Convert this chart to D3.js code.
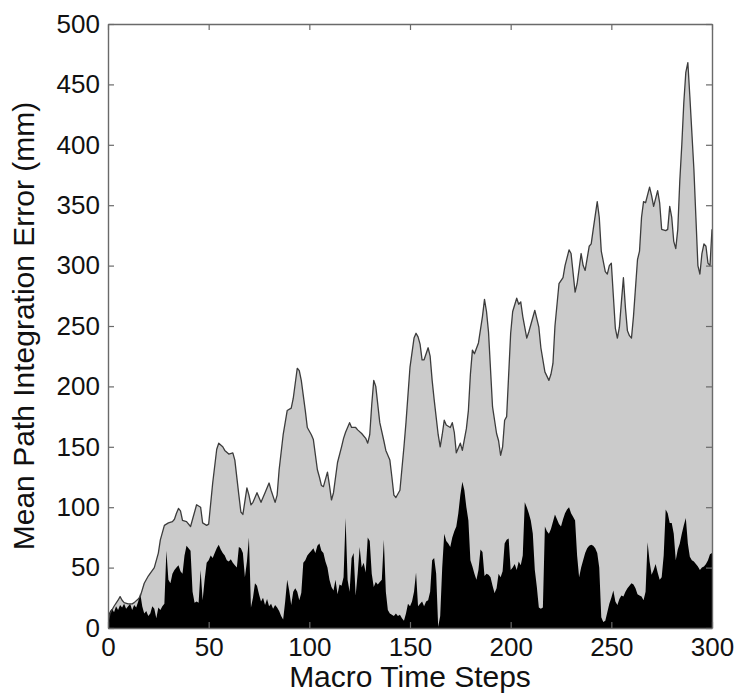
<!DOCTYPE html>
<html>
<head>
<meta charset="utf-8">
<script src="https://cdn.jsdelivr.net/npm/d3@7"></script>
<style>
  body { margin: 0; background: #fff; }
  svg text { font-family: "Liberation Sans", Arial, Helvetica, sans-serif; fill: #111; }
</style>
</head>
<body>
<svg id="chart" width="739" height="698"></svg>
<script>
// mean path integration error (upper grey curve), read at key steps
var meanSteps = [0, 1, 3, 5, 6, 7, 8, 10, 12, 13, 15, 16, 18, 20, 23, 25, 26, 28, 30, 32,
    33, 34, 35, 36, 37, 39, 41, 42, 44, 46, 47, 49, 50, 52, 54, 55, 57, 58, 60, 62,
    63, 65, 66, 67, 68, 69, 70, 71, 72, 74, 75, 76, 78, 80, 81, 83, 84, 85, 87, 89,
    91, 92, 94, 95, 96, 98, 99, 101, 102, 104, 105, 106, 107, 109, 110, 111, 112, 114, 116, 117,
    118, 120, 121, 123, 124, 126, 128, 129, 130, 131, 132, 133, 135, 137, 138, 140, 141, 142, 143, 145,
    147, 148, 150, 152, 153, 154, 155, 156, 157, 159, 160, 161, 162, 164, 165, 166, 167, 168, 170, 171,
    172, 173, 175, 176, 178, 179, 180, 181, 182, 184, 186, 187, 188, 189, 191, 193, 194, 195, 196, 197,
    198, 200, 201, 203, 204, 205, 206, 208, 209, 211, 212, 214, 215, 217, 219, 220, 221, 222, 224, 226,
    227, 229, 230, 232, 233, 235, 236, 237, 239, 240, 241, 243, 244, 245, 247, 248, 249, 250, 251, 252,
    253, 254, 255, 256, 257, 258, 259, 260, 261, 263, 264, 265, 266, 267, 269, 270, 271, 273, 274, 275,
    277, 278, 279, 280, 281, 282, 283, 284, 285, 286, 287, 288, 289, 290, 291, 292, 293, 294, 295, 296,
    297, 298, 299, 300];
var meanError = [5, 12, 18, 23, 26, 23, 21, 20, 20, 21, 24, 26, 37, 43, 50, 62, 73, 85, 87, 88,
    90, 95, 99, 97, 89, 88, 84, 90, 102, 100, 87, 85, 86, 120, 148, 153, 150, 147, 144, 145,
    139, 110, 96, 94, 105, 116, 110, 102, 104, 112, 108, 104, 112, 120, 114, 104, 110, 131, 160, 180,
    182, 190, 215, 213, 205, 180, 166, 160, 156, 131, 125, 118, 117, 129, 118, 106, 112, 137, 150, 157,
    162, 170, 166, 166, 164, 161, 157, 153, 160, 185, 205, 200, 170, 155, 147, 139, 125, 110, 108, 114,
    150, 170, 216, 240, 244, 241, 235, 222, 222, 232, 225, 205, 189, 160, 150, 160, 172, 168, 166, 170,
    162, 145, 153, 147, 165, 180, 210, 230, 227, 236, 258, 272, 262, 245, 183, 161, 155, 143, 150, 172,
    175, 244, 262, 273, 268, 270, 258, 240, 245, 257, 263, 249, 232, 212, 205, 210, 219, 250, 285, 290,
    300, 313, 310, 278, 285, 310, 300, 296, 316, 318, 330, 353, 340, 312, 295, 293, 300, 302, 275, 248,
    240, 249, 270, 290, 265, 246, 242, 240, 258, 305, 312, 340, 353, 352, 365, 358, 349, 362, 352, 330,
    329, 330, 349, 340, 320, 314, 330, 370, 400, 435, 460, 468, 440, 410, 380, 340, 300, 293, 310, 318,
    316, 302, 300, 330];

// lower black series, one value per macro time step (0..300)
var lowError = [
    10, 14, 16, 13, 18, 15, 19, 17, 20, 16,
    18, 20, 15, 19, 17, 22, 29, 18, 12, 14,
    10, 12, 18, 16, 8, 17, 15, 18, 20, 64,
    40, 37, 45, 48, 50, 52, 47, 45, 60, 68,
    66, 64, 30, 21, 22, 21, 48, 23, 40, 54,
    56, 60, 58, 62, 66, 69, 65, 62, 60, 56,
    55, 57, 54, 52, 50, 67, 66, 62, 42, 55,
    75, 17, 25, 37, 35, 28, 22, 25, 19, 24,
    18, 20, 16, 19, 17, 14, 10, 7, 22, 40,
    31, 19, 30, 33, 30, 23, 29, 54, 56, 60,
    62, 64, 66, 62, 68, 70, 64, 62, 55, 50,
    40, 34, 31, 40, 28, 36, 35, 42, 91, 40,
    30, 58, 62, 27, 45, 67, 50, 54, 46, 75,
    72, 45, 34, 38, 36, 38, 40, 73, 30, 15,
    12, 11, 10, 12, 10, 11, 8, 6, 12, 20,
    18, 22, 30, 46, 18, 20, 22, 18, 22, 23,
    30, 56, 58, 45, 1, 10, 50, 78, 72, 70,
    67, 75, 80, 84, 95, 110, 121, 114, 100, 89,
    56, 51, 45, 40, 48, 65, 63, 43, 45, 44,
    42, 35, 29, 33, 45, 42, 47, 70, 73, 74,
    48, 50, 53, 48, 55, 52, 60, 104, 100, 95,
    89, 78, 48, 34, 17, 16, 17, 84, 80, 78,
    82, 88, 94, 90, 86, 84, 90, 95, 98, 100,
    95, 92, 89, 60, 42, 50, 56, 62, 66, 68,
    69, 68, 66, 62, 50, 9, 5, 6, 13, 20,
    25, 31, 22, 19, 24, 27, 26, 30, 33, 35,
    37, 36, 33, 28, 27, 26, 23, 30, 71, 55,
    44, 48, 53, 46, 40, 42, 60, 98, 95, 87,
    87, 78, 56, 65, 70, 78, 85, 91, 70, 59,
    56, 55, 53, 51, 48, 50, 51, 53, 56, 61,
    62];

var xTicks = [0, 50, 100, 150, 200, 250, 300];
var yTicks = [0, 50, 100, 150, 200, 250, 300, 350, 400, 450, 500];

var margin = {top: 24, right: 27, bottom: 70, left: 108};
var width = 739 - margin.left - margin.right;
var height = 698 - margin.top - margin.bottom;

var svg = d3.select("#chart");
var g = svg.append("g").attr("transform", `translate(${margin.left},${margin.top})`);

var x = d3.scaleLinear().domain([0, 300]).range([0, width]);
var y = d3.scaleLinear().domain([0, 500]).range([height, 0]);

svg.append("defs").append("clipPath").attr("id", "plotClip")
    .append("rect").attr("width", width).attr("height", height);

var meanData = meanSteps.map((s, i) => ({step: s, value: meanError[i]}));
var lowData = lowError.map((v, i) => ({step: i, value: v}));

var plot = g.append("g").attr("clip-path", "url(#plotClip)");

var area = d3.area()
    .x(d => x(d.step))
    .y0(y(0))
    .y1(d => y(d.value));

plot.append("path")
    .datum(meanData)
    .attr("d", area)
    .style("fill", "#cbcbcb");

plot.append("path")
    .datum(lowData)
    .attr("d", area)
    .style("fill", "#000");

plot.append("path")
    .datum(meanData)
    .attr("d", d3.line().x(d => x(d.step)).y(d => y(d.value)))
    .style("fill", "none")
    .style("stroke", "#3c3c3c")
    .style("stroke-width", 1.3)
    .style("stroke-linejoin", "round");

// box with inward ticks on all four sides
function styleAxis(sel) {
    sel.select(".domain").style("stroke", "#6a6a6a").style("stroke-width", 1.4);
    sel.selectAll(".tick line").style("stroke", "#6a6a6a").style("stroke-width", 1.2);
    sel.selectAll(".tick text").style("font-size", "26px").style("fill", "#111");
}

g.append("g")
    .attr("transform", `translate(0,${height})`)
    .call(d3.axisBottom(x).tickValues(xTicks).tickSizeInner(-6).tickSizeOuter(0).tickPadding(10))
    .call(styleAxis);

g.append("g")
    .call(d3.axisLeft(y).tickValues(yTicks).tickSizeInner(-6).tickSizeOuter(0).tickPadding(8))
    .call(styleAxis);

g.append("g")
    .call(d3.axisTop(x).tickValues(xTicks).tickSizeInner(-6).tickSizeOuter(0).tickFormat(""))
    .call(styleAxis);

g.append("g")
    .attr("transform", `translate(${width},0)`)
    .call(d3.axisRight(y).tickValues(yTicks).tickSizeInner(-6).tickSizeOuter(0).tickFormat(""))
    .call(styleAxis);

g.append("text")
    .attr("x", width / 2)
    .attr("y", height + 59)
    .style("text-anchor", "middle")
    .style("font-size", "30px")
    .text("Macro Time Steps");

g.append("text")
    .attr("transform", `translate(${-74},${height / 2}) rotate(-90)`)
    .style("text-anchor", "middle")
    .style("font-size", "30px")
    .text("Mean Path Integration Error (mm)");
</script>
</body>
</html>
